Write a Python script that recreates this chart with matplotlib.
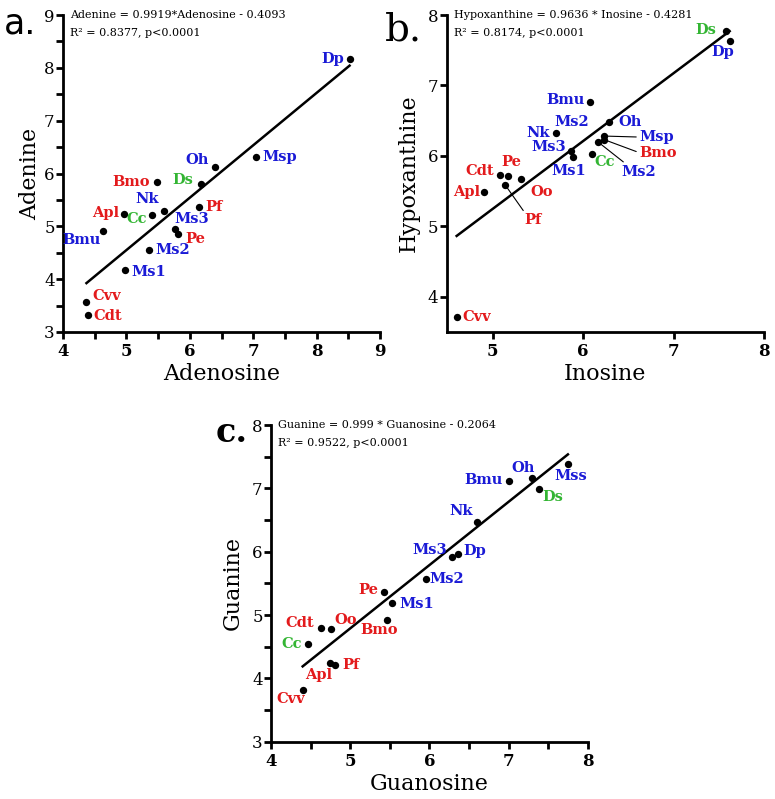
import matplotlib
matplotlib.use("Agg")
import matplotlib.pyplot as plt
import numpy as np

plt.rcParams['font.family'] = ['DejaVu Serif']

RED = '#e31a1c'
BLUE = '#1a1ad6'
GREEN = '#33b533'

red_sp = ['Bmo', 'Pf', 'Apl', 'Pe', 'Cvv', 'Cdt', 'Oo']
green_sp = ['Ds', 'Cc']


def sp_color(name):
    if name in red_sp:
        return RED
    if name in green_sp:
        return GREEN
    return BLUE


# ---- panel a: adenosine vs adenine
a_names = ['Dp', 'Msp', 'Oh', 'Ds', 'Bmo', 'Pf', 'Apl', 'Cc', 'Nk', 'Bmu',
           'Ms3', 'Pe', 'Ms2', 'Ms1', 'Cvv', 'Cdt']
a_x = [8.52, 7.05, 6.39, 6.18, 5.48, 6.15, 4.96, 5.40, 5.60, 4.63,
       5.76, 5.82, 5.35, 4.98, 4.37, 4.39]
a_y = [8.17, 6.31, 6.13, 5.81, 5.83, 5.36, 5.24, 5.21, 5.29, 4.91,
       4.95, 4.85, 4.55, 4.17, 3.56, 3.33]
a_slope, a_icpt = 0.9919, -0.4093
a_eq = ['Adenine = 0.9919*Adenosine - 0.4093', 'R² = 0.8377, p<0.0001']

# ---- panel b: inosine vs hypoxanthine
b_names = ['Ds', 'Dp', 'Bmu', 'Nk', 'Oh', 'Ms3', 'Ms1', 'Cc', 'Msp', 'Bmo',
           'Ms2', 'Cdt', 'Pe', 'Apl', 'Oo', 'Pf', 'Cvv']
b_x = [7.58, 7.62, 6.08, 5.70, 6.29, 5.87, 5.89, 6.10, 6.23, 6.23,
       6.16, 5.08, 5.17, 4.90, 5.31, 5.14, 4.60]
b_y = [7.77, 7.63, 6.77, 6.32, 6.48, 6.07, 5.98, 6.03, 6.28, 6.23,
       6.20, 5.72, 5.71, 5.48, 5.67, 5.58, 3.71]
b_slope, b_icpt = 0.9636, 0.4281
b_eq = ['Hypoxanthine = 0.9636 * Inosine - 0.4281', 'R² = 0.8174, p<0.0001']

# ---- panel c: guanosine vs guanine
c_names = ['Bmu', 'Oh', 'Mss', 'Ds', 'Nk', 'Ms3', 'Dp', 'Ms2', 'Pe', 'Ms1',
           'Bmo', 'Cdt', 'Oo', 'Cc', 'Apl', 'Pf', 'Cvv']
c_x = [7.01, 7.30, 7.75, 7.38, 6.60, 6.28, 6.36, 5.96, 5.43, 5.53,
       5.46, 4.63, 4.76, 4.47, 4.74, 4.81, 4.40]
c_y = [7.11, 7.16, 7.38, 6.99, 6.47, 5.91, 5.96, 5.57, 5.37, 5.19,
       4.92, 4.79, 4.78, 4.55, 4.24, 4.21, 3.82]
c_slope, c_icpt = 0.999, -0.2064
c_eq = ['Guanine = 0.999 * Guanosine - 0.2064', 'R² = 0.9522, p<0.0001']

# label placement: (dx, dy) in pixels, ha, leader line relpos (optional)
a_lab = {'Dp': (-5, 0, 'right'), 'Msp': (6, 0, 'left'), 'Oh': (-6, 7, 'right'),
         'Ds': (-8, 4, 'right'), 'Bmo': (-7, 0, 'right'), 'Pf': (6, 0, 'left'),
         'Apl': (-5, 1, 'right'), 'Cc': (-5, -4, 'right'), 'Nk': (-6, 12, 'right'),
         'Bmu': (-2, -9, 'right'), 'Ms3': (0, 10, 'left'), 'Pe': (7, -5, 'left'),
         'Ms2': (7, 0, 'left'), 'Ms1': (6, -2, 'left'), 'Cvv': (6, 6, 'left'),
         'Cdt': (6, -1, 'left')}
b_lab = {'Ds': (-10, 1, 'right'), 'Dp': (-7, -11, 'center'), 'Bmu': (-6, 2, 'right'),
         'Nk': (-6, 0, 'right'), 'Oh': (9, 0, 'left'), 'Ms3': (-5, 4, 'right'),
         'Ms1': (-5, -14, 'center'), 'Cc': (2, -8, 'left'),
         'Msp': (35, -1, 'left', (0, 0.5)), 'Bmo': (35, -13, 'left', (0, 0.5)),
         'Ms2': (24, -30, 'left', (0.2, 0.9)), 'Cdt': (-6, 4, 'right'),
         'Pe': (3, 14, 'center'), 'Apl': (-4, 0, 'right'), 'Oo': (10, -13, 'left'),
         'Pf': (19, -35, 'left', (0.1, 0.9)), 'Cvv': (6, 0, 'left')}
c_lab = {'Bmu': (-7, 1, 'right'), 'Oh': (-9, 10, 'center'), 'Mss': (3, -12, 'center'),
         'Ds': (4, -8, 'left'), 'Nk': (-4, 11, 'right'), 'Ms3': (-5, 7, 'right'),
         'Dp': (6, 3, 'left'), 'Ms2': (3, 0, 'left'), 'Pe': (-6, 2, 'right'),
         'Ms1': (7, -1, 'left'), 'Bmo': (-7, -10, 'center'), 'Cdt': (-7, 5, 'right'),
         'Oo': (3, 9, 'left'), 'Cc': (-6, 0, 'right'), 'Apl': (-11, -12, 'center'),
         'Pf': (7, 0, 'left'), 'Cvv': (2, -9, 'right')}

fig = plt.figure(figsize=(7.75, 7.99), dpi=100)
W, H = 775, 799


def add_ax(left, top, right, bottom):
    return fig.add_axes([left / W, 1 - bottom / H, (right - left) / W, (bottom - top) / H])


def draw_panel(ax, x, y, names, labs, slope, icpt, eq, xlim, ylim, xticks, yticks,
               xminor, yminor, xlabel, ylabel, xlpad, ylpad):
    x = np.array(x)
    y = np.array(y)
    xx = np.array([x.min(), x.max()])
    ax.plot(xx, slope * xx + icpt, color='black', lw=1.8, zorder=2)
    ax.scatter(x, y, s=28, color='black', zorder=3, linewidths=0)
    for n, px, py in zip(names, x, y):
        p = labs[n]
        kw = {}
        if len(p) > 3:
            kw['arrowprops'] = dict(arrowstyle='-', lw=0.8, color='black',
                                    shrinkA=0, shrinkB=2, relpos=p[3])
        ax.annotate(n, (px, py), xytext=(p[0], p[1]), textcoords='offset pixels',
                    ha=p[2], va='center', fontsize=10.5, fontweight='bold',
                    color=sp_color(n), **kw)
    ax.text(0.022, 1.016, eq[0], transform=ax.transAxes, fontsize=8, va='top', ha='left')
    ax.text(0.022, 0.958, eq[1], transform=ax.transAxes, fontsize=8, va='top', ha='left')
    ax.set_xlim(*xlim)
    ax.set_ylim(*ylim)
    ax.set_xticks(xticks)
    ax.set_yticks(yticks)
    if xminor:
        ax.set_xticks(xminor, minor=True)
    if yminor:
        ax.set_yticks(yminor, minor=True)
    for s in ['top', 'right']:
        ax.spines[s].set_visible(False)
    for s in ['left', 'bottom']:
        ax.spines[s].set_linewidth(2)
    ax.tick_params(which='both', direction='out', length=5, width=2)
    ax.tick_params(axis='y', labelsize=12, pad=1)
    ax.tick_params(axis='x', labelsize=12, pad=3)
    for t in ax.get_xticklabels():
        t.set_fontweight('bold')
    ax.set_xlabel(xlabel, fontsize=16, labelpad=xlpad)
    ax.set_ylabel(ylabel, fontsize=16, labelpad=ylpad)


ax_a = add_ax(63, 15, 380, 332)
draw_panel(ax_a, a_x, a_y, a_names, a_lab, a_slope, a_icpt, a_eq,
           (4, 9), (3, 9), [4, 5, 6, 7, 8, 9], [3, 4, 5, 6, 7, 8, 9],
           [4.5, 5.5, 6.5, 7.5, 8.5], [3.5, 4.5, 5.5, 6.5, 7.5, 8.5],
           'Adenosine', 'Adenine', 2, 2)

ax_b = add_ax(446.7, 15, 764, 331.7)
draw_panel(ax_b, b_x, b_y, b_names, b_lab, b_slope, b_icpt, b_eq,
           (4.49, 8), (3.5, 8), [5, 6, 7, 8], [4, 5, 6, 7, 8],
           None, None, 'Inosine', 'Hypoxanthine', 2, 6)
# stray "Ms2" label sitting above Nk in the original
ax_b.annotate('Ms2', (b_x[3], b_y[3]), xytext=(-2, 11), textcoords='offset pixels',
              ha='left', va='center', fontsize=10.5, fontweight='bold', color=BLUE)

ax_c = add_ax(271, 425, 587.7, 741.7)
draw_panel(ax_c, c_x, c_y, c_names, c_lab, c_slope, c_icpt, c_eq,
           (4, 8), (3, 8), [4, 5, 6, 7, 8], [3, 4, 5, 6, 7, 8],
           [4.5, 5.5, 6.5, 7.5], [3.5, 4.5, 5.5, 6.5, 7.5],
           'Guanosine', 'Guanine', 2, 6)

fig.text(4 / W, 1 - 24 / H, 'a.', fontsize=25, family='DejaVu Sans', va='center', ha='left')
fig.text(385 / W, 1 - 30 / H, 'b.', fontsize=28, va='center', ha='left')
fig.text(216 / W, 1 - 432 / H, 'c.', fontsize=24, fontweight='bold', va='center', ha='left')

fig.savefig('out.png', dpi=100)
